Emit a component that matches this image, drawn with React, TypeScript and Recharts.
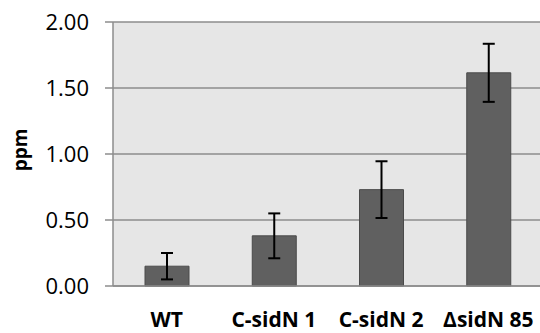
import React from 'react';
import { BarChart, Bar, XAxis, YAxis, CartesianGrid, ErrorBar } from 'recharts';

const categories = ['WT', 'C-sidN 1', 'C-sidN 2', 'ΔsidN 85'];
const values = [0.15, 0.38, 0.73, 1.615];
const errors = [0.1, 0.17, 0.215, 0.22];
const yTicks = [0, 0.5, 1, 1.5, 2];

const data = categories.map((name, i) => ({ name, value: values[i], err: errors[i] }));

const FONT = '"Open Sans", "DejaVu Sans", sans-serif';

const YLabel = () => (
  <text
    x={20}
    y={150}
    transform="rotate(-90 20 150)"
    textAnchor="middle"
    dominantBaseline="central"
    fontFamily={FONT}
    fontWeight="bold"
    fontSize={19}
    fill="#000"
  >
    ppm
  </text>
);

export default function App() {
  return (
    <div style={{ position: 'absolute', left: 0, top: 0, width: 540, height: 333, background: '#fff' }}>
      <BarChart
        width={540}
        height={333}
        data={data}
        margin={{ top: 22, right: -2, bottom: 1, left: 0 }}
        barSize={44}
      >
        <CartesianGrid
          vertical={false}
          horizontal={true}
          fill="#e6e6e6"
          stroke="#8c8c8c"
          strokeWidth={1.5}
        />
        <XAxis
          dataKey="name"
          tickLine={false}
          axisLine={{ stroke: '#8c8c8c', strokeWidth: 1.5 }}
          tickSize={0}
          tickMargin={26}
          height={46}
          interval={0}
          tick={{ fontFamily: FONT, fontWeight: 'bold', fontSize: 21, fill: '#000' }}
        />
        <YAxis
          domain={[0, 2]}
          ticks={yTicks}
          interval={0}
          tickFormatter={(v: number) => v.toFixed(2)}
          width={113}
          tickSize={8}
          tickMargin={16}
          tickLine={{ stroke: '#8c8c8c', strokeWidth: 1.5 }}
          axisLine={{ stroke: '#8c8c8c', strokeWidth: 1.5 }}
          tick={{ fontFamily: FONT, fontSize: 22, fill: '#000' }}
          label={<YLabel />}
        />
        <Bar dataKey="value" fill="#606060" stroke="#4a4a4a" strokeWidth={1} isAnimationActive={false}>
          <ErrorBar dataKey="err" width={6} stroke="#000" strokeWidth={2} />
        </Bar>
      </BarChart>
    </div>
  );
}
